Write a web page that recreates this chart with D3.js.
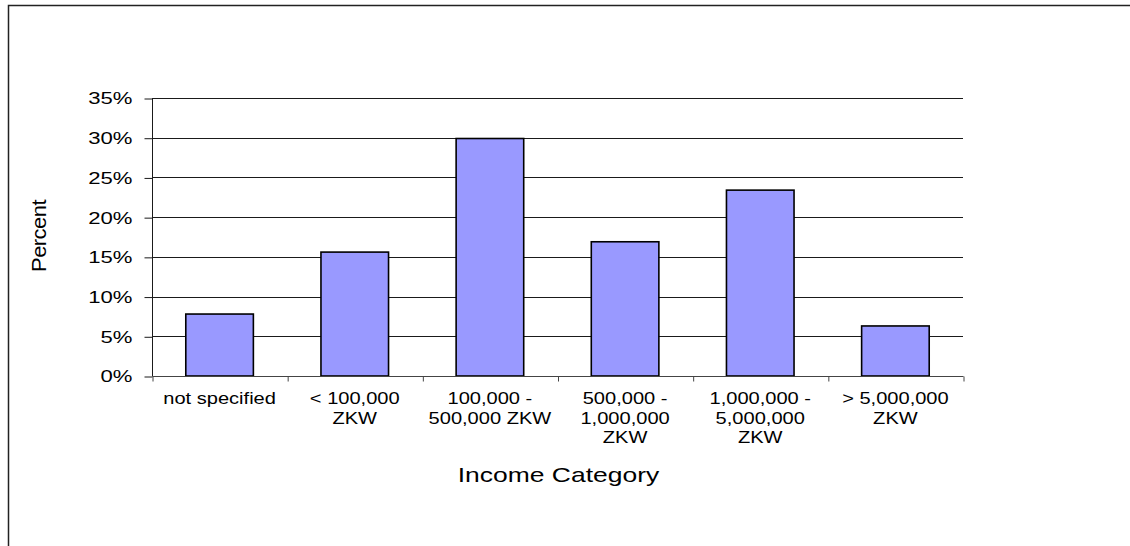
<!DOCTYPE html>
<html>
<head>
<meta charset="utf-8">
<script src="https://cdn.jsdelivr.net/npm/d3@7"></script>
<style>
  html, body { margin: 0; padding: 0; background: #fff; }
  svg { display: block; font-family: "Liberation Sans", Arial, sans-serif; }
</style>
</head>
<body>
<svg id="chart" width="1130" height="546"></svg>
<script>
// Share of respondents by income category
const categories = [
  "not specified",
  "< 100,000 ZKW",
  "100,000 - 500,000 ZKW",
  "500,000 - 1,000,000 ZKW",
  "1,000,000 - 5,000,000 ZKW",
  "> 5,000,000 ZKW"
];
const categoryLines = [
  ["not specified"],
  ["< 100,000", "ZKW"],
  ["100,000 -", "500,000 ZKW"],
  ["500,000 -", "1,000,000", "ZKW"],
  ["1,000,000 -", "5,000,000", "ZKW"],
  ["> 5,000,000", "ZKW"]
];
const percentValues = [7.8, 15.6, 29.9, 16.9, 23.4, 6.3];
const yTicks = [0, 5, 10, 15, 20, 25, 30, 35];
const xTitle = "Income Category";
const yTitle = "Percent";

const svg = d3.select("#chart");

// Outer chart frame
svg.append("rect")
  .attr("x", 8.5).attr("y", 5.5)
  .attr("width", 1140).attr("height", 560)
  .attr("fill", "none").attr("stroke", "#222").attr("stroke-width", 1.5);

const plot = { left: 152, right: 963, top: 98, bottom: 376 };

const x = d3.scaleBand()
  .domain(categories)
  .range([plot.left, plot.right])
  .paddingInner(0.5).paddingOuter(0.25);

const y = d3.scaleLinear()
  .domain([0, 35])
  .range([plot.bottom, plot.top]);

// Widen glyphs horizontally by a factor
function stretch(sel, factor) {
  sel.each(function () {
    const w = this.getComputedTextLength();
    d3.select(this)
      .attr("textLength", w * factor)
      .attr("lengthAdjust", "spacingAndGlyphs");
  });
}

// Horizontal gridlines
svg.append("g")
  .selectAll("line")
  .data(yTicks.filter(d => d > 0))
  .join("line")
  .attr("x1", plot.left).attr("x2", plot.right)
  .attr("y1", d => Math.round(y(d)) + 0.5)
  .attr("y2", d => Math.round(y(d)) + 0.5)
  .attr("stroke", "#1a1a1a").attr("stroke-width", 1);

// Bars
svg.append("g")
  .selectAll("rect")
  .data(percentValues)
  .join("rect")
  .attr("x", (d, i) => x(categories[i]))
  .attr("y", d => y(d))
  .attr("width", x.bandwidth())
  .attr("height", d => plot.bottom - y(d))
  .attr("fill", "#9999ff")
  .attr("stroke", "#000")
  .attr("stroke-width", 1.6);

// Y axis
const yAxis = svg.append("g")
  .attr("transform", `translate(${plot.left + 0.5},0.5)`)
  .call(d3.axisLeft(y)
    .tickValues(yTicks)
    .tickSize(8)
    .tickPadding(12)
    .tickFormat(d => d + "%"));
yAxis.select(".domain").attr("stroke", "#1a1a1a").attr("d", `M0,${plot.top}V${plot.bottom}`);
yAxis.selectAll(".tick line").attr("stroke", "#1a1a1a");
yAxis.selectAll(".tick text")
  .attr("font-size", 17)
  .attr("font-family", "Liberation Sans, Arial, sans-serif")
  .attr("fill", "#000")
  .call(stretch, 1.3);

// X axis: ticks sit on category boundaries
const boundaries = d3.range(categories.length + 1)
  .map(i => plot.left + i * (plot.right - plot.left) / categories.length);
const xb = d3.scaleLinear().domain([plot.left, plot.right]).range([plot.left, plot.right]);
const xAxis = svg.append("g")
  .attr("transform", `translate(0.5,${plot.bottom + 0.5})`)
  .call(d3.axisBottom(xb).tickValues(boundaries).tickSize(5).tickFormat(""));
xAxis.select(".domain").attr("stroke", "#444").attr("d", `M${plot.left},0H${plot.right}`);
xAxis.selectAll(".tick line").attr("stroke", "#444");

// Category labels (wrapped)
const labelG = svg.append("g");
categoryLines.forEach((lines, i) => {
  const cx = x(categories[i]) + x.bandwidth() / 2;
  lines.forEach((ln, j) => {
    labelG.append("text")
      .attr("x", cx)
      .attr("y", 404 + j * 19.6)
      .attr("text-anchor", "middle")
      .attr("font-size", 17)
      .attr("fill", "#000")
      .text(ln);
  });
});
labelG.selectAll("text").call(stretch, 1.18);

// Axis titles
svg.append("text")
  .attr("x", (plot.left + plot.right) / 2 + 1)
  .attr("y", 481.5)
  .attr("text-anchor", "middle")
  .attr("font-size", 21)
  .attr("fill", "#000")
  .text(xTitle)
  .call(stretch, 1.26);

svg.append("text")
  .attr("transform", `translate(45.5,${(plot.top + plot.bottom) / 2 - 1}) rotate(-90)`)
  .attr("text-anchor", "middle")
  .attr("font-size", 20)
  .attr("fill", "#000")
  .attr("letter-spacing", -0.5)
  .text(yTitle)
  .call(stretch, 1.1);
</script>
</body>
</html>
